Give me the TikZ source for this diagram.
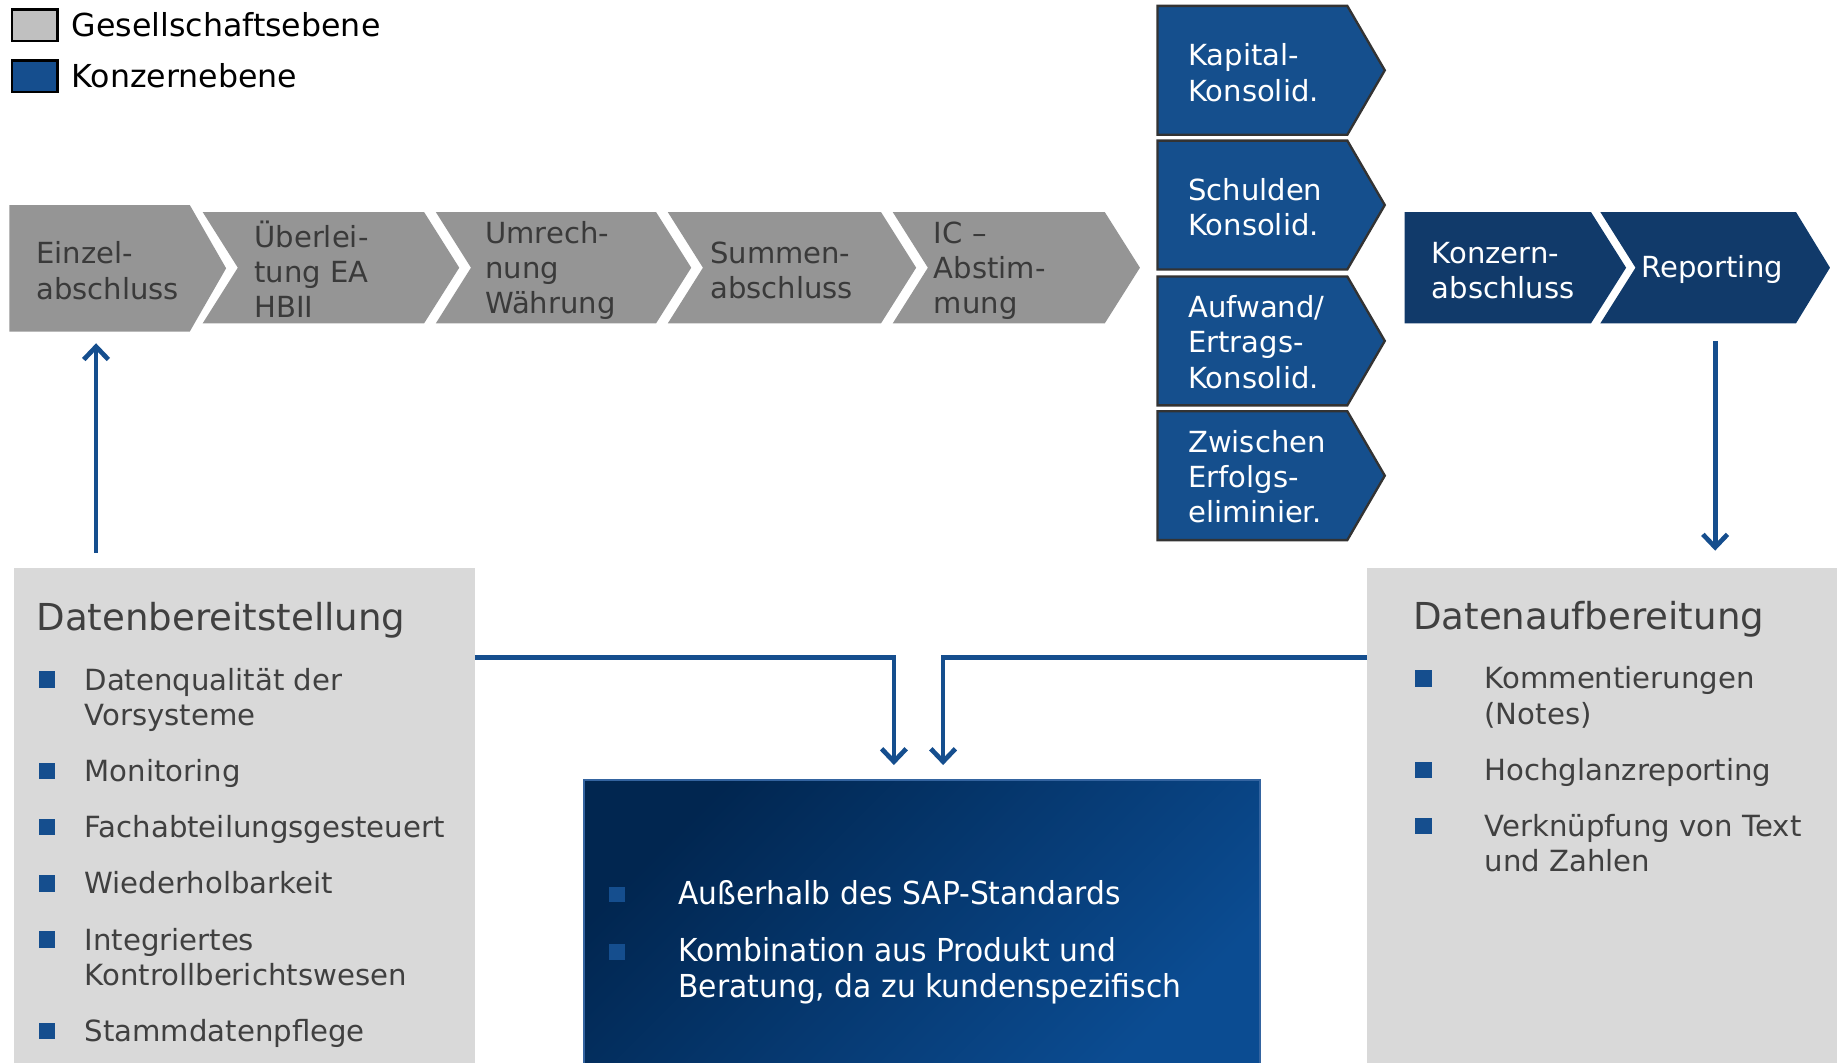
\documentclass[tikz,border=0pt]{standalone}
\usepackage{fontspec}
\setmainfont{DejaVu Sans}
\newfontfamily\schmalfont{DejaVu Sans}[FakeStretch=0.94]
\usepackage{tikz}
\usetikzlibrary{calc,positioning,arrows.meta}

\definecolor{grauchevron}{RGB}{149,149,149}
\definecolor{grautext}{RGB}{58,58,58}
\definecolor{panelgrau}{RGB}{217,217,217}
\definecolor{paneltext}{RGB}{64,64,64}
\definecolor{kblau}{RGB}{21,78,142}
\definecolor{stapelblau}{RGB}{21,79,141}
\definecolor{stapelrand}{RGB}{51,51,51}
\definecolor{navy}{RGB}{17,58,106}
\definecolor{legendgrau}{RGB}{192,192,192}
\definecolor{sapdunkel}{RGB}{1,38,80}
\definecolor{saphell}{RGB}{11,76,146}
\definecolor{saprand}{RGB}{52,100,160}

\newcommand{\kpunkt}{\textcolor{kblau}{\rule[2pt]{14pt}{14pt}}}
\newcommand{\spunkt}{\textcolor{kblau}{\rule[2pt]{13pt}{13pt}}}

\tikzset{grauflaeche/.style={fill=grauchevron},
         stapelflaeche/.style={fill=stapelblau, draw=stapelrand, line width=2pt},
         navyflaeche/.style={fill=navy},
         schritt/.style={anchor=west, align=left, inner sep=0pt, text=grautext,
                         font=\fontsize{24.8}{30}\selectfont},
         schrittweiss/.style={schritt, text=white},
         legkasten/.style={draw=black, line width=2pt, minimum width=39pt, minimum height=27pt, inner sep=0pt},
         legtext/.style={inner sep=0pt, font=\fontsize{27}{32}\selectfont},
         panel/.style={fill=panelgrau, anchor=north west, inner sep=0pt},
         titel/.style={anchor=base west, inner sep=0pt, text=paneltext, font=\fontsize{31.7}{38}\selectfont},
         liste/.style={anchor=base west, inner sep=0pt, text=paneltext, font=\fontsize{24.9}{30}\selectfont},
         pfeil/.style={draw=kblau, line width=4pt, -{Straight Barb[length=11pt,width=21pt]}}}

\begin{document}
\begin{tikzpicture}[x=1pt, y=-1pt]
\useasboundingbox (0,0) rectangle (1568,907);

% Legende
\node[legkasten, fill=legendgrau] (leggrau) at (29.5,21.5) {};
\node[legkasten, fill=kblau] (legblau) at (29.5,65) {};
\node[legtext, right=11pt of leggrau] (legendegesell) {Gesellschaftsebene};
\node[legtext, right=11pt of legblau] (legendekonzern) {Konzernebene};

% Gesellschaftsebene
\fill[grauflaeche] (8,175) -- (162,175) -- (193,229) -- (162,283) -- (8,283) -- cycle;
\fill[grauflaeche] (173,181) -- (362,181) -- (392,228.5) -- (362,276) -- (173,276) -- (203,228.5) -- cycle;
\fill[grauflaeche] (372,181) -- (560,181) -- (590,228.5) -- (560,276) -- (372,276) -- (402,228.5) -- cycle;
\fill[grauflaeche] (570,181) -- (752,181) -- (782,228.5) -- (752,276) -- (570,276) -- (600,228.5) -- cycle;
\fill[grauflaeche] (762,181) -- (943,181) -- (973,228.5) -- (943,276) -- (762,276) -- (792,228.5) -- cycle;
\node[schritt] (einzel) at (31,231) {Einzel-\\abschluss};
\node[schritt] (ueberleitung) at (217,230) {Überlei-\\tung EA\\HBII};
\node[schritt] (umrechnung) at (414,231) {Umrech-\\nung\\Währung};
\node[schritt] (summen) at (606,231) {Summen-\\abschluss};
\node[schritt] (icabst) at (797,231) {IC –\\Abstim-\\mung};

% Konsolidierung
\draw[stapelflaeche] (988,5) -- (1150,5) -- (1182,60) -- (1150,115) -- (988,115) -- cycle;
\draw[stapelflaeche] (988,120) -- (1150,120) -- (1182,175) -- (1150,230) -- (988,230) -- cycle;
\draw[stapelflaeche] (988,236) -- (1150,236) -- (1182,291) -- (1150,346) -- (988,346) -- cycle;
\draw[stapelflaeche] (988,351) -- (1150,351) -- (1182,406) -- (1150,461) -- (988,461) -- cycle;
\node[schrittweiss] (kapital) at (1014,62) {Kapital-\\Konsolid.};
\node[schrittweiss] (schulden) at (1014,177) {Schulden\\Konsolid.};
\node[schrittweiss] (aufwand) at (1014,292) {Aufwand/\\Ertrags-\\Konsolid.};
\node[schrittweiss] (zwischen) at (1014,407) {Zwischen\\Erfolgs-\\eliminier.};

% Konzernebene
\fill[navyflaeche] (1199,181) -- (1358,181) -- (1388,228.5) -- (1358,276) -- (1199,276) -- cycle;
\fill[navyflaeche] (1366,181) -- (1533,181) -- (1562,228.5) -- (1533,276) -- (1366,276) -- (1396,228.5) -- cycle;
\node[schrittweiss] (konzern) at (1222,231) {Konzern-\\abschluss};
\node[schrittweiss] (reporting) at (1401,230) {Reporting};

% Kaesten unten
\node[panel, minimum width=393pt, minimum height=422pt] (bereit) at (12,485) {};
\node[panel, minimum width=401pt, minimum height=422pt] (aufbereit) at (1167,485) {};
\node[anchor=north west, inner sep=0pt, minimum width=577pt, minimum height=242pt,
      top color=sapdunkel, bottom color=saphell, shading angle=45,
      draw=saprand, line width=1.5pt] (sapbox) at (498,665) {};

\node[titel] (bereittitel) at (31,538) {Datenbereitstellung};
\node[liste] (bereitliste) at (33,589) {\begin{tabular}[t]{@{}p{39pt}@{}l@{}}
    \kpunkt & Datenqualität der\\
            & Vorsysteme\\[18pt]
    \kpunkt & Monitoring\\[18pt]
    \kpunkt & Fachabteilungsgesteuert\\[18pt]
    \kpunkt & Wiederholbarkeit\\[18pt]
    \kpunkt & Integriertes\\
            & Kontrollberichtswesen\\[18pt]
    \kpunkt & Stammdatenpflege
  \end{tabular}};

\node[titel] (aufbereittitel) at (1206,537) {Datenaufbereitung};
\node[liste] (aufbereitliste) at (1208,588) {\begin{tabular}[t]{@{}p{59pt}@{}l@{}}
    \kpunkt & Kommentierungen\\
            & (Notes)\\[18pt]
    \kpunkt & Hochglanzreporting\\[18pt]
    \kpunkt & Verknüpfung von Text\\
            & und Zahlen
  \end{tabular}};

\node[liste, text=white, font=\schmalfont\fontsize{27}{30}\selectfont] (sapliste) at (520,772) {\begin{tabular}[t]{@{}p{59pt}@{}l@{}}
    \spunkt & Außerhalb des SAP-Standards\\[19pt]
    \spunkt & Kombination aus Produkt und\\
            & Beratung, da zu kundenspezifisch
  \end{tabular}};

% Pfeile
\coordinate (einzelunten) at (82,293);
\coordinate (reportingunten) at (1464,291);
\draw[pfeil] ($(bereit.north west)+(70,-13)$) -- (einzelunten);
\draw[pfeil] (reportingunten) -- ($(aufbereit.north west)+(297,-15)$);
\draw[pfeil] ($(bereit.north east)+(0,76)$) -| ($(sapbox.north west)+(265,-12)$);
\draw[pfeil] ($(aufbereit.north west)+(0,76)$) -| ($(sapbox.north west)+(307,-12)$);
\end{tikzpicture}
\end{document}
